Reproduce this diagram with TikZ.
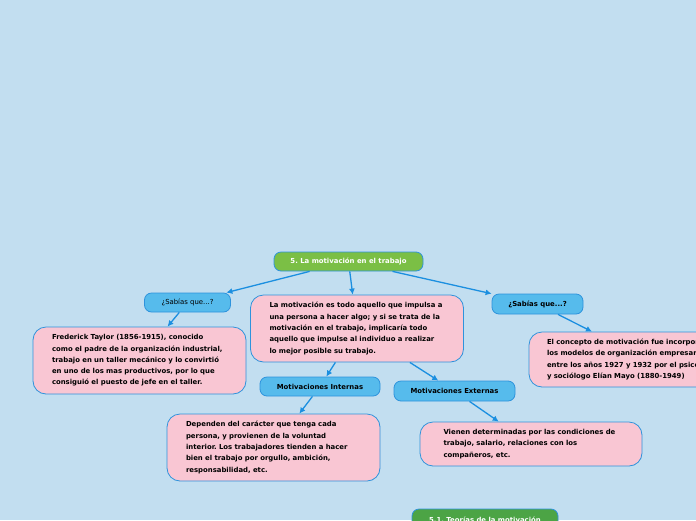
\documentclass[tikz,border=0pt]{standalone}
\usepackage{fontspec}
\setmainfont{DejaVu Sans}
\usetikzlibrary{arrows.meta}
\frenchspacing
\definecolor{bgblue}{RGB}{194,222,240}
\definecolor{edgeblue}{RGB}{46,147,220}
\definecolor{linkblue}{RGB}{27,143,224}
\definecolor{qblue}{RGB}{86,187,236}
\definecolor{notepink}{RGB}{249,198,211}
\definecolor{rootgreen}{RGB}{123,191,69}
\definecolor{subgreen}{RGB}{76,164,69}
\begin{document}
\begin{tikzpicture}[x=1pt, y=-1pt,
    every node/.style={draw=edgeblue, line width=0.8pt, font=\fontsize{6.9}{11.3}\selectfont\bfseries},
    topic/.style={fill=rootgreen, text=white, rounded corners=7pt, minimum width=149pt, minimum height=19pt, inner sep=0pt},
    subtopic/.style={topic, fill=subgreen},
    question/.style={fill=qblue, rounded corners=7pt, minimum height=19pt, inner sep=0pt},
    note/.style={fill=notepink, rounded corners=13pt, align=left, inner xsep=19pt, inner ysep=0pt},
    link/.style={draw=linkblue, line width=1.3pt, -{Latex[length=6pt,width=6pt]}}]
    \useasboundingbox (0,0) rectangle (696,520);
    \clip (0,0) rectangle (696,520);
    \fill[bgblue] (0,0) rectangle (696,520);
    % main branch
    \node[topic] (root) at (348.5,261.5) {5. La motivación en el trabajo};
    \node[question, minimum width=86pt, font=\fontsize{6.9}{8}\selectfont] (sabiasA) at (187.5,302.5) {¿Sabías que...?};
    \node[question, minimum width=91pt, minimum height=20pt] (sabiasB) at (537.5,304) {¿Sabías que...?};
    \node[note, text width=175pt, minimum height=67pt] (concepto) at (357,328.5) {La motivación es todo aquello que impulsa a\\una persona a hacer algo; y si se trata de la\\motivación en el trabajo, implicaría todo\\aquello que impulse al individuo a realizar\\lo mejor posible su trabajo.};
    \node[note, text width=175pt, minimum height=67pt] (taylor) at (139.5,360.5) {Frederick Taylor (1856-1915), conocido\\como el padre de la organización industrial,\\trabajo en un taller mecánico y lo convirtió\\en uno de los mas productivos, por lo que\\consiguió el puesto de jefe en el taller.};
    \node[note, text width=200pt, inner xsep=18pt, minimum height=55pt] (mayo) at (647,359.5) {El concepto de motivación fue incorporado a\\los modelos de organización empresarial\\entre los años 1927 y 1932 por el psicólogo\\y sociólogo Elían Mayo (1880-1949)};
    % motivaciones
    \node[question, minimum width=120pt] (internas) at (320,386.5) {Motivaciones Internas};
    \node[question, minimum width=121pt, minimum height=20pt] (externas) at (454.5,391) {Motivaciones Externas};
    \node[note, text width=175pt, minimum height=67pt] (dependen) at (273.5,447.5) {Dependen del carácter que tenga cada\\persona, y provienen de la voluntad\\interior. Los trabajadores tienden a hacer\\bien el trabajo por orgullo, ambición,\\responsabilidad, etc.};
    \node[note, text width=175pt, inner xsep=23.5pt, minimum height=44pt] (vienen) at (531,444) {Vienen determinadas por las condiciones de\\trabajo, salario, relaciones con los\\compañeros, etc.};
    \node[subtopic, minimum width=146pt, minimum height=22pt] (teorias) at (485,520) {5.1. Teorías de la motivación};
    % connectors
    \draw[link] (root) -- (sabiasA);
    \draw[link] (root) -- (concepto);
    \draw[link] (root) -- (sabiasB);
    \draw[link] (sabiasA) -- (taylor);
    \draw[link] (sabiasB) -- (mayo);
    \draw[link] (concepto) -- (internas);
    \draw[link] (concepto) -- (externas);
    \draw[link] (internas) -- (dependen);
    \draw[link] (externas) -- (vienen);
\end{tikzpicture}
\end{document}
